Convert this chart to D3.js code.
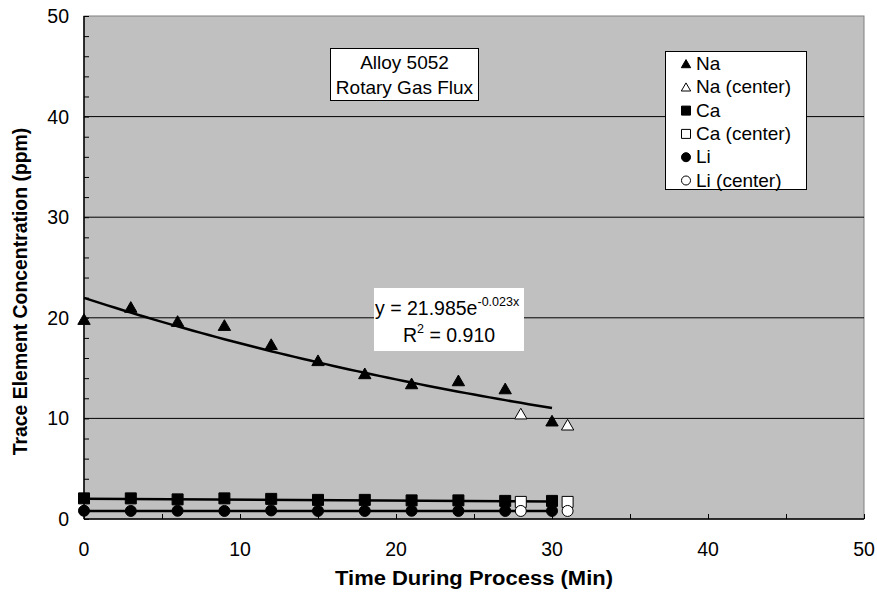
<!DOCTYPE html>
<html>
<head>
<meta charset="utf-8">
<script src="https://cdn.jsdelivr.net/npm/d3@7"></script>
<style>
body { margin: 0; background: #fff; }
text { font-family: "Liberation Sans", Arial, sans-serif; }
</style>
</head>
<body>
<div id="chart"></div>
<script>
// data
var naTime = [0, 3, 6, 9, 12, 15, 18, 21, 24, 27, 30];
var naVal = [19.8, 21.0, 19.6, 19.2, 17.3, 15.7, 14.4, 13.4, 13.7, 12.9, 9.7];
var naCenterTime = [28, 31];
var naCenterVal = [10.4, 9.3];

var caTime = [0, 3, 6, 9, 12, 15, 18, 21, 24, 27, 30];
var caVal = [2.05, 2.05, 1.95, 2.05, 2.0, 1.9, 1.9, 1.85, 1.85, 1.8, 1.8];
var caCenterTime = [28, 31];
var caCenterVal = [1.7, 1.7];

var liTime = [0, 3, 6, 9, 12, 15, 18, 21, 24, 27, 30];
var liVal = [0.82, 0.8, 0.82, 0.8, 0.85, 0.8, 0.8, 0.82, 0.8, 0.8, 0.8];
var liCenterTime = [28, 31];
var liCenterVal = [0.8, 0.8];

// trendlines: Na from the equation shown, Ca and Li are straight
var naFit = {a: 21.985, b: -0.023};
var trendX = [0, 30];
var caTrend = [2.02, 1.75];
var liTrend = [0.8, 0.8];

var xTicks = [0, 10, 20, 30, 40, 50];
var yTicks = [0, 10, 20, 30, 40, 50];

var legendItems = [
	{label: "Na", shape: "tri", fill: true},
	{label: "Na (center)", shape: "tri", fill: false},
	{label: "Ca", shape: "sq", fill: true},
	{label: "Ca (center)", shape: "sq", fill: false},
	{label: "Li", shape: "circ", fill: true},
	{label: "Li (center)", shape: "circ", fill: false}
];

var W = 877, H = 594;
var L = 84, R = 864, T = 16, B = 519;

var svg = d3.select("#chart").append("svg")
	.attr("width", W)
	.attr("height", H);

var x = d3.scaleLinear().domain([0, 50]).range([L, R]);
var y = d3.scaleLinear().domain([0, 50]).range([B, T]);

// plot background
svg.append("rect")
	.attr("x", L).attr("y", T)
	.attr("width", R - L).attr("height", B - T)
	.attr("fill", "#c0c0c0")
	.attr("stroke", "#808080")
	.attr("stroke-width", 1);

// gridlines
svg.selectAll(".grid").data([10, 20, 30, 40]).enter()
	.append("line")
	.attr("x1", L).attr("x2", R)
	.attr("y1", function(d) { return y(d); })
	.attr("y2", function(d) { return y(d); })
	.attr("stroke", "#000")
	.attr("stroke-width", 1);

// minor ticks, pointing inside
svg.append("g")
	.attr("transform", "translate(" + L + ",0)")
	.call(d3.axisRight(y).tickValues(d3.range(0, 51, 2)).tickSize(5).tickFormat(""))
	.call(function(g) { g.select(".domain").remove(); });

svg.append("g")
	.attr("transform", "translate(0," + B + ")")
	.call(d3.axisTop(x).tickValues(d3.range(0, 51, 5)).tickSize(5).tickFormat(""))
	.call(function(g) { g.select(".domain").remove(); });

// axis lines
svg.append("line").attr("x1", L).attr("x2", L).attr("y1", T).attr("y2", B)
	.attr("stroke", "#000").attr("stroke-width", 1.5);
svg.append("line").attr("x1", L).attr("x2", R).attr("y1", B).attr("y2", B)
	.attr("stroke", "#000").attr("stroke-width", 1.5);

// tick labels
svg.selectAll(".ylab").data(yTicks).enter()
	.append("text")
	.attr("x", L - 15)
	.attr("y", function(d) { return y(d); })
	.attr("dy", "0.36em")
	.attr("text-anchor", "end")
	.attr("font-size", 19.5)
	.text(function(d) { return d; });

svg.selectAll(".xlab").data(xTicks).enter()
	.append("text")
	.attr("x", function(d) { return x(d); })
	.attr("y", 556)
	.attr("text-anchor", "middle")
	.attr("font-size", 19.5)
	.text(function(d) { return d; });

// axis titles
svg.append("text")
	.attr("x", 474)
	.attr("y", 585)
	.attr("text-anchor", "middle")
	.attr("font-size", 19.5)
	.attr("font-weight", "bold")
	.attr("textLength", 278)
	.attr("lengthAdjust", "spacingAndGlyphs")
	.text("Time During Process (Min)");

svg.append("text")
	.attr("transform", "translate(27,291.5) rotate(-90)")
	.attr("text-anchor", "middle")
	.attr("font-size", 19.4)
	.attr("font-weight", "bold")
	.text("Trace Element Concentration (ppm)");

// trendlines
var naLine = d3.range(0, 30.01, 0.5).map(function(t) { return [t, naFit.a * Math.exp(naFit.b * t)]; });
var line = d3.line().x(function(d) { return x(d[0]); }).y(function(d) { return y(d[1]); });

svg.append("path").datum(naLine).attr("d", line)
	.attr("fill", "none").attr("stroke", "#000").attr("stroke-width", 2.5);
svg.append("path").datum(d3.zip(trendX, caTrend)).attr("d", line)
	.attr("fill", "none").attr("stroke", "#000").attr("stroke-width", 2.5);
svg.append("path").datum(d3.zip(trendX, liTrend)).attr("d", line)
	.attr("fill", "none").attr("stroke", "#000").attr("stroke-width", 2.5);

var triSym = d3.symbol().type(d3.symbolTriangle).size(66);
var sqSym = d3.symbol().type(d3.symbolSquare).size(121);
var circSym = d3.symbol().type(d3.symbolCircle).size(95);

function drawSeries(xs, ys, sym, filled, dy) {
	svg.append("g").selectAll("path").data(d3.zip(xs, ys)).enter()
		.append("path")
		.attr("d", sym)
		.attr("transform", function(d) { return "translate(" + x(d[0]) + "," + (y(d[1]) + (dy || 0)) + ")"; })
		.attr("fill", filled ? "#000" : "#fff")
		.attr("stroke", "#000")
		.attr("stroke-width", 1);
}

drawSeries(caTime, caVal, sqSym, true);
drawSeries(liTime, liVal, circSym, true);
drawSeries(caCenterTime, caCenterVal, sqSym, false);
drawSeries(liCenterTime, liCenterVal, circSym, false);
drawSeries(naTime, naVal, triSym, true, 1);
drawSeries(naCenterTime, naCenterVal, triSym, false, 1);

// title box
svg.append("rect").attr("x", 330.5).attr("y", 48.5).attr("width", 148).attr("height", 52)
	.attr("fill", "#fff").attr("stroke", "#000").attr("stroke-width", 1);
svg.append("text").attr("x", 404.5).attr("y", 68.5).attr("text-anchor", "middle")
	.attr("font-size", 19).text("Alloy 5052");
svg.append("text").attr("x", 404.5).attr("y", 93.5).attr("text-anchor", "middle")
	.attr("font-size", 19).text("Rotary Gas Flux");

// equation box
svg.append("rect").attr("x", 374).attr("y", 288).attr("width", 150).attr("height", 63)
	.attr("fill", "#fff");
var eq = svg.append("text").attr("x", 375).attr("y", 315).attr("font-size", 19.5);
eq.append("tspan").text("y = 21.985e");
eq.append("tspan").attr("dy", -9).attr("font-size", 12.5).text("-0.023x");
var r2 = svg.append("text").attr("x", 403).attr("y", 341.5).attr("font-size", 19.5);
r2.append("tspan").text("R");
r2.append("tspan").attr("dy", -9).attr("font-size", 12.5).text("2");
r2.append("tspan").attr("dy", 9).text(" = 0.910");

// legend
svg.append("rect").attr("x", 665.5).attr("y", 51.5).attr("width", 141).attr("height", 138)
	.attr("fill", "#fff").attr("stroke", "#000").attr("stroke-width", 1);

var legSyms = {
	tri: d3.symbol().type(d3.symbolTriangle).size(38),
	sq: d3.symbol().type(d3.symbolSquare).size(81),
	circ: d3.symbol().type(d3.symbolCircle).size(64)
};

var leg = svg.append("g").selectAll("g").data(legendItems).enter()
	.append("g")
	.attr("transform", function(d, i) { return "translate(0," + (70 + i * 23.3) + ")"; });

leg.append("path")
	.attr("d", function(d) { return legSyms[d.shape](); })
	.attr("transform", function(d) { return "translate(686," + (d.shape == "tri" ? -5 : -6) + ")"; })
	.attr("fill", function(d) { return d.fill ? "#000" : "#fff"; })
	.attr("stroke", "#000")
	.attr("stroke-width", 1);

leg.append("text")
	.attr("x", 696)
	.attr("font-size", 19)
	.text(function(d) { return d.label; });
</script>
</body>
</html>
